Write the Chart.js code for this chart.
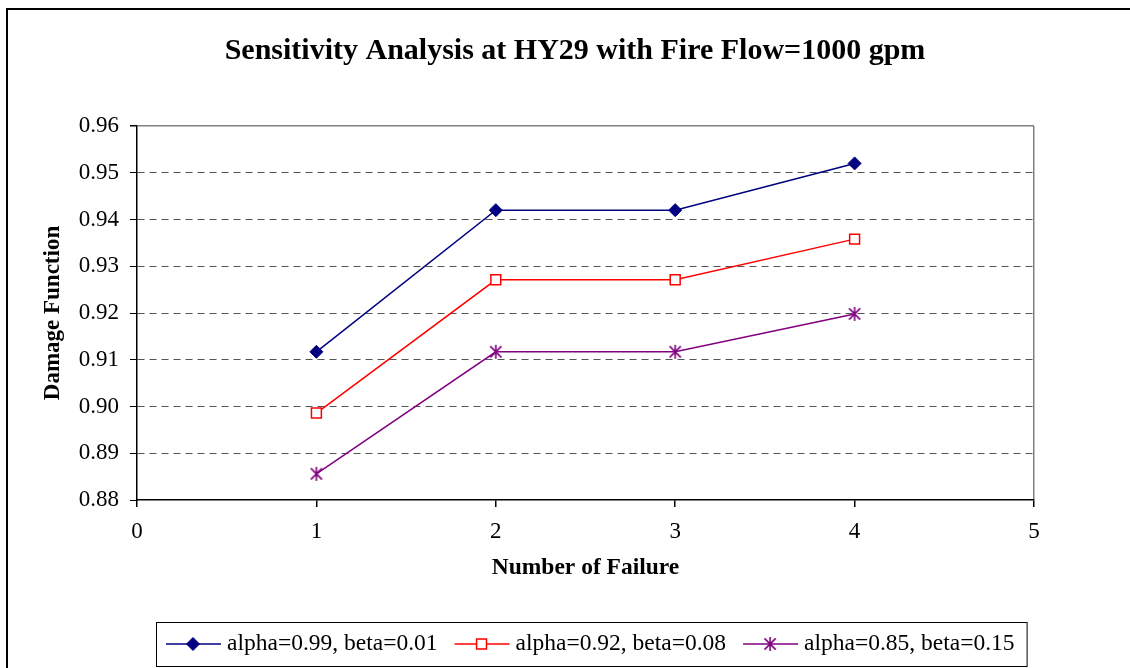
<!doctype html>
<html lang="en">
<head>
  <meta charset="UTF-8">
  <title>Sensitivity Analysis</title>
  <script src="https://cdn.jsdelivr.net/npm/chart.js"></script>
  <style>
    body {
      margin: 0;
      background: #fff;
    }
    #chart_01 {
      display: block;
    }
  </style>
</head>
<body>
  <canvas id="chart_01" width="1130" height="668"></canvas>
  <script type="application/javascript">
    const failures = [1, 2, 3, 4]
    const alpha99 = [0.9117, 0.942, 0.942, 0.952]
    const alpha92 = [0.8986, 0.9271, 0.9271, 0.9358]
    const alpha85 = [0.8856, 0.9117, 0.9117, 0.9198]
    const series_labels = ['alpha=0.99, beta=0.01', 'alpha=0.92, beta=0.08', 'alpha=0.85, beta=0.15']
    const chart_title = 'Sensitivity Analysis at HY29 with Fire Flow=1000 gpm'
    const y_min = 0.88
    const y_max = 0.96
    const x_min = 0
    const x_max = 5

    const serif = '"Liberation Serif", "Times New Roman", serif'

    const to_points = ys => failures.map((x, i) => ({x, y: ys[i]}))

    // asterisk marker: vertical stroke plus an X
    const make_star = (color, r) => {
      const c = document.createElement('canvas')
      const s = 2 * r + 4
      c.width = s
      c.height = s
      const g = c.getContext('2d')
      const m = s / 2
      const d = r * 0.8
      g.strokeStyle = color
      g.lineWidth = 1.6
      g.beginPath()
      g.moveTo(m, m - r); g.lineTo(m, m + r)
      g.moveTo(m - d, m - d); g.lineTo(m + d, m + d)
      g.moveTo(m - d, m + d); g.lineTo(m + d, m - d)
      g.stroke()
      return c
    }
    const star_img = make_star('#800080', 7)

    // frame round the whole picture + title
    const frame_plugin = {
      id: 'frame',
      afterDraw(chart) {
        const {ctx} = chart
        ctx.save()
        ctx.strokeStyle = '#000'
        ctx.lineWidth = 2
        ctx.beginPath()
        ctx.moveTo(1130, 9)
        ctx.lineTo(7, 9)
        ctx.lineTo(7, 668)
        ctx.stroke()
        ctx.fillStyle = '#000'
        ctx.font = `bold 30px ${serif}`
        ctx.textAlign = 'center'
        ctx.textBaseline = 'middle'
        ctx.fillText(chart_title, 575, 51)
        ctx.restore()
      }
    }

    // boxed legend with line + marker samples
    const legend_plugin = {
      id: 'boxLegend',
      afterDraw(chart) {
        const {ctx} = chart
        const left = 156, top = 622, height = 44
        const cy = top + height / 2
        ctx.save()
        ctx.font = `23.5px ${serif}`
        ctx.textBaseline = 'middle'
        let x = left + 10
        chart.data.datasets.forEach((ds, i) => {
          ctx.strokeStyle = ds.borderColor
          ctx.lineWidth = ds.borderWidth
          ctx.beginPath()
          ctx.moveTo(x, cy)
          ctx.lineTo(x + 55, cy)
          ctx.stroke()
          ctx.fillStyle = ds.pointBackgroundColor
          ctx.strokeStyle = ds.pointBorderColor
          ctx.lineWidth = ds.pointBorderWidth
          Chart.helpers.drawPoint(ctx, {
            pointStyle: ds.pointStyle,
            radius: ds.pointRadius,
            borderWidth: ds.pointBorderWidth,
            rotation: 0
          }, x + 27, cy)
          ctx.fillStyle = '#000'
          ctx.fillText(ds.label, x + 61, cy)
          x += 61 + ctx.measureText(ds.label).width
          if (i < chart.data.datasets.length - 1) x += 17
        })
        ctx.strokeStyle = '#000'
        ctx.lineWidth = 1
        ctx.strokeRect(left + 0.5, top + 0.5, x + 12 - left, height)
        ctx.restore()
      }
    }

    const config = {
      type: 'line',
      data: {
        datasets: [{
          label: series_labels[0],
          data: to_points(alpha99),
          borderColor: '#000080',
          borderWidth: 1.5,
          pointStyle: 'rectRot',
          pointRadius: 6.5,
          pointBackgroundColor: '#000080',
          pointBorderColor: '#000080',
          pointBorderWidth: 1
        }, {
          label: series_labels[1],
          data: to_points(alpha92),
          borderColor: '#ff0000',
          borderWidth: 1.5,
          pointStyle: 'rect',
          pointRadius: 7,
          pointBackgroundColor: '#ffffff',
          pointBorderColor: '#ff0000',
          pointBorderWidth: 1.5
        }, {
          label: series_labels[2],
          data: to_points(alpha85),
          borderColor: '#800080',
          borderWidth: 1.5,
          pointStyle: star_img,
          pointRadius: 7,
          pointBackgroundColor: '#800080',
          pointBorderColor: '#800080',
          pointBorderWidth: 1.5
        }]
      },
      options: {
        responsive: false,
        animation: false,
        layout: {
          padding: {left: 0, top: 126, right: 96, bottom: 0}
        },
        elements: {
          line: {tension: 0}
        },
        plugins: {
          legend: {display: false},
          tooltip: {enabled: false},
          title: {display: false}
        },
        scales: {
          x: {
            type: 'linear',
            min: x_min,
            max: x_max,
            afterFit(scale) {
              scale.height = 168
            },
            ticks: {
              stepSize: 1,
              padding: 11,
              color: '#000',
              font: {family: serif, size: 23}
            },
            grid: {
              color: ctx => ctx.index === x_max ? '#808080' : 'rgba(0,0,0,0)',
              tickColor: '#000',
              tickLength: 7,
              lineWidth: 1.5
            },
            border: {color: '#000', width: 1.5},
            title: {
              display: true,
              text: 'Number of Failure',
              color: '#000',
              font: {family: serif, size: 23.5, weight: 'bold'},
              padding: {bottom: 86}
            }
          },
          y: {
            min: y_min,
            max: y_max,
            afterFit(scale) {
              scale.width = 137
            },
            ticks: {
              stepSize: 0.01,
              padding: 11,
              color: '#000',
              font: {family: serif, size: 23},
              callback: v => v.toFixed(2)
            },
            grid: {
              color: ctx => {
                if (ctx.index === 0) return 'rgba(0,0,0,0)'
                if (ctx.index === 8) return '#808080'
                return '#555'
              },
              lineWidth: ctx => ctx.index === 8 ? 1.5 : 1,
              tickColor: '#000',
              tickLength: 7
            },
            border: {
              color: '#000',
              width: 1.5,
              dash: ctx => ctx.index === 8 ? [] : [7, 5]
            },
            title: {
              display: true,
              text: 'Damage Function',
              color: '#000',
              font: {family: serif, size: 23, weight: 'bold'},
              padding: {top: 39}
            }
          }
        }
      },
      plugins: [frame_plugin, legend_plugin]
    }

    const myChart = new Chart(
      document.getElementById('chart_01'),
      config
    )
  </script>
</body>
</html>
